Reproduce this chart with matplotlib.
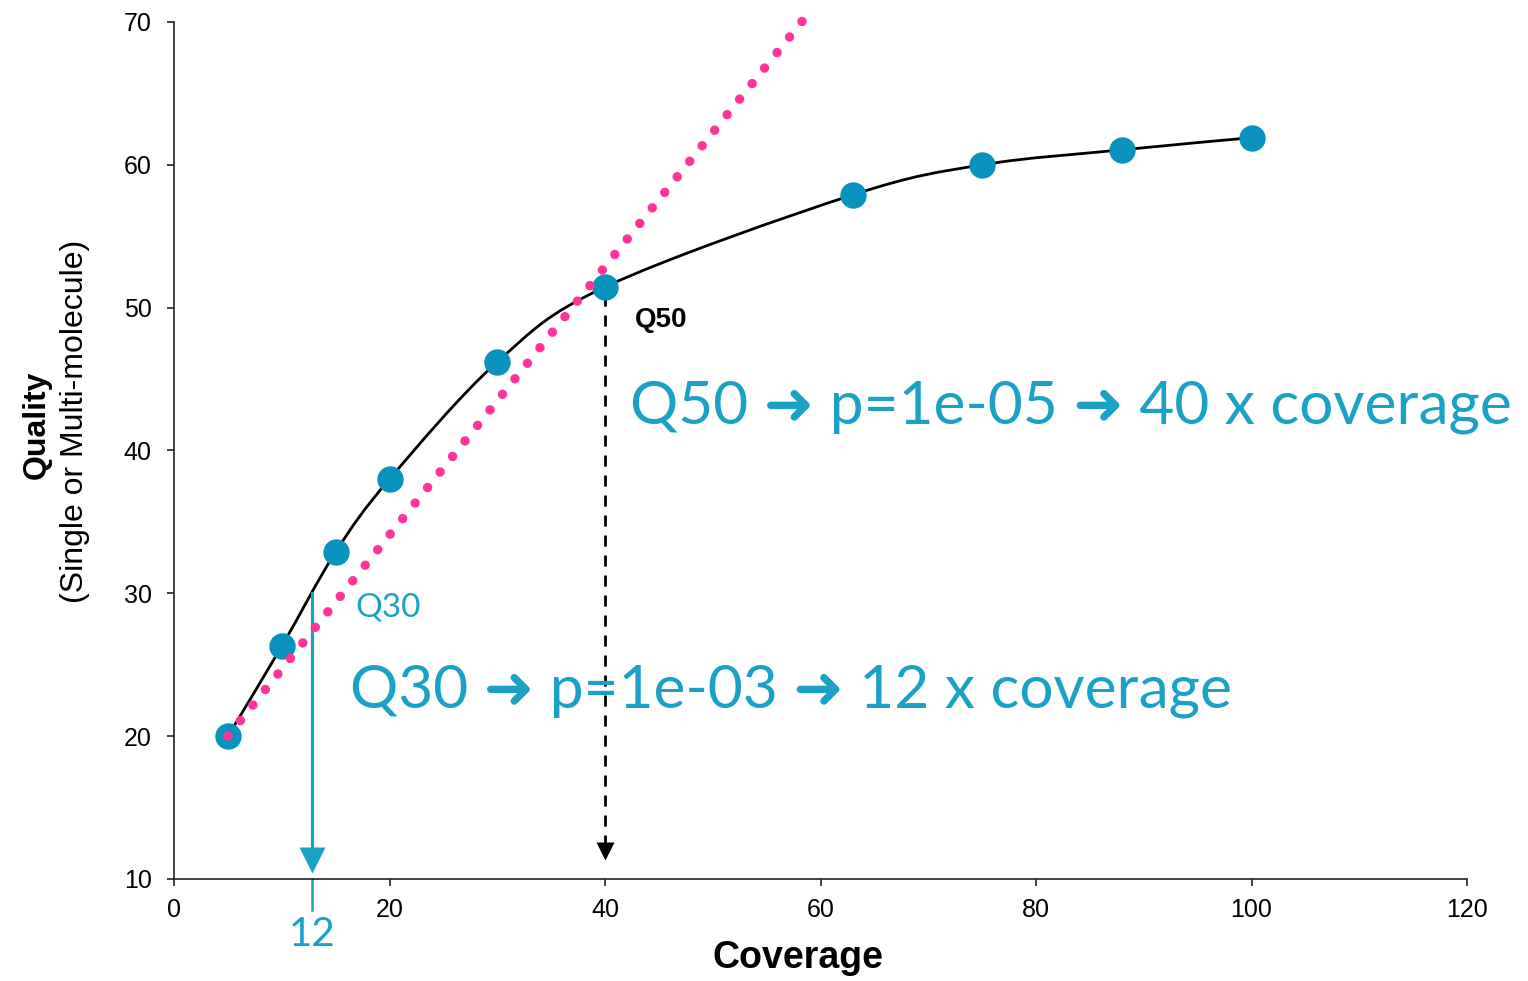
import numpy as np
import matplotlib.pyplot as plt
from matplotlib.path import Path
from matplotlib.patches import PathPatch

# data
coverage = [5, 10, 15, 20, 30, 40, 63, 75, 88, 100]
quality = [20.0, 26.3, 32.9, 38.0, 46.2, 51.45, 57.9, 60.0, 61.05, 61.9]
# single-molecule straight line (pink dots)
single_x = [5, 59.2]
single_y = [20, 70.9]
xticks = [0, 20, 40, 60, 80, 100, 120]
yticks = [10, 20, 30, 40, 50, 60, 70]

cyan = '#1ba1c5'
marker_col = '#0892bd'
pink = '#ff3399'

fig = plt.figure(figsize=(15.28, 9.81), dpi=100)
ax = fig.add_axes([0.1139, 0.104, 0.8462, 0.8736])

# smoothed black line (Catmull-Rom -> bezier)
pts = np.column_stack([coverage, quality])
verts = [pts[0]]
codes = [Path.MOVETO]
n = len(pts)
for i in range(n - 1):
    p0 = pts[i - 1] if i > 0 else pts[i]
    p1 = pts[i]
    p2 = pts[i + 1]
    p3 = pts[i + 2] if i + 2 < n else pts[i + 1]
    c1 = p1 + (p2 - p0) / 6
    c2 = p2 - (p3 - p1) / 6
    verts += [c1, c2, p2]
    codes += [Path.CURVE4] * 3
ax.add_patch(PathPatch(Path(verts, codes), fill=False, color='black', lw=2.0, zorder=2))

ax.plot(coverage, quality, 'o', ms=19, color=marker_col, mec='none', zorder=3)

ax.plot(single_x, single_y, color=pink, lw=6.8, ls=(0, (0.01, 2.1)),
        dash_capstyle='round', clip_on=False, zorder=4)

# Q50 dashed arrow
ax.plot([40, 40], [50.9, 12.3], color='black', lw=2, ls=(0, (4, 3.2)), zorder=2)
ax.plot(40, 11.96, marker='v', ms=13, color='black', mec='none', zorder=2)
ax.text(42.8, 48.65, 'Q50', fontsize=20, fontweight='bold', family='Liberation Sans')

# Q30 arrow
ax.plot([12.8, 12.8], [30, 11.5], color=cyan, lw=2.3, zorder=2)
ax.plot(12.8, 11.33, marker='v', ms=19, color=cyan, mec='none', zorder=2)
ax.plot([12.8, 12.8], [10, 7.83], color=cyan, lw=1.8, clip_on=False)
ax.text(12.8, 5.3, '12', color=cyan, fontsize=29, ha='center', va='baseline',
        family=['Lato', 'DejaVu Sans'])
ax.text(16.8, 28.35, 'Q30', color=cyan, fontsize=24, va='baseline',
        family=['Lato', 'DejaVu Sans'])

big = dict(color=cyan, fontsize=43.5, va='baseline', family=['Lato', 'DejaVu Sans'])
ax.text(42.3, 41.9, 'Q50 \u279c p=1e-05 \u279c 40 x coverage', **big)
ax.text(16.3, 22.0, 'Q30 \u279c p=1e-03 \u279c 12 x coverage', **big)

ax.set_xlim(0, 120)
ax.set_ylim(10, 70)
ax.set_xticks(xticks)
ax.set_yticks(yticks)
for s in ['top', 'right']:
    ax.spines[s].set_visible(False)
for s in ['left', 'bottom']:
    ax.spines[s].set_linewidth(1.2)
    ax.spines[s].set_color('#222222')
ax.tick_params(direction='out', length=5, width=1.2, color='#222222', labelsize=18)
ax.tick_params(axis='y', pad=11)
ax.tick_params(axis='x', pad=9)
for lab in ax.get_xticklabels() + ax.get_yticklabels():
    lab.set_family('Liberation Sans')

fig.text(798 / 1528, 1 - 958 / 981, 'Coverage', fontsize=27, fontweight='bold',
         family='Liberation Sans', ha='center', va='center')
fig.text(37 / 1528, 1 - 425 / 981, 'Quality', rotation=90, fontsize=23, fontweight='bold',
         family='Liberation Sans', ha='center', va='center')
fig.text(75 / 1528, 1 - 421 / 981, '(Single or Multi-molecule)', rotation=90, fontsize=23,
         family='Liberation Sans', ha='center', va='center')

fig.savefig('out.png', dpi=100)
